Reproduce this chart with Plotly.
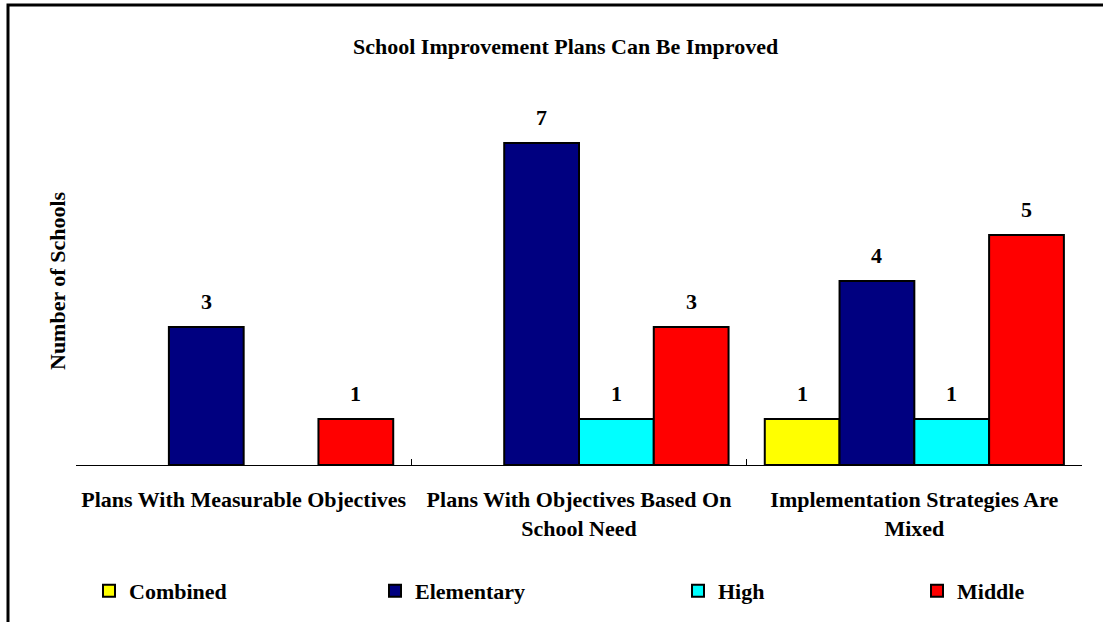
import plotly.graph_objects as go

# Categories and counts per school type
categories = [
    "Plans With Measurable Objectives",
    "Plans With Objectives Based On<br>School Need",
    "Implementation Strategies Are<br>Mixed",
]
series_names = ["Combined", "Elementary", "High", "Middle"]
combined = [None, None, 1]
elementary = [3, 7, 4]
high = [None, 1, 1]
middle = [1, 3, 5]
series_values = [combined, elementary, high, middle]
series_colors = ["#FFFF00", "#000080", "#00FFFF", "#FF0000"]

FONT = "Liberation Serif, Times New Roman, serif"

# plot-area geometry (pixels)
W, H = 1103, 622
L, R, T, B = 76, 21, 97, 157
PW, PH = W - L - R, H - T - B


def px_x(px):
    return (px - L) / PW


def px_y(py):
    return (H - B - py) / PH


legend_x_px = [89, 375, 678, 917]
BARGAP = 0.108

fig = go.Figure()
for i, (name, vals, col) in enumerate(zip(series_names, series_values, series_colors)):
    lname = "legend" if i == 0 else f"legend{i + 1}"
    fig.add_trace(go.Bar(
        x=categories, y=vals, name=f"<b>{name}</b>",
        marker=dict(color=col, line=dict(color="#000000", width=2)),
        legend=lname, hovertemplate=f"{name}: %{{y}}<extra></extra>",
    ))

# value labels above each bar
cat_w = PW / len(categories)
bar_w = cat_w * (1 - BARGAP) / len(series_names)
for i, vals in enumerate(series_values):
    offset = (i - (len(series_names) - 1) / 2) * bar_w
    for c, v in zip(categories, vals):
        if v is None:
            continue
        fig.add_annotation(
            x=c, y=v, xref="x", yref="y", text=f"<b>{v}</b>",
            showarrow=False, xshift=offset, yshift=26, yanchor="middle",
            font=dict(family=FONT, size=22, color="#000000"),
        )

fig.add_annotation(
    x=px_x(565), y=px_y(46), xref="paper", yref="paper",
    text="<b>School Improvement Plans Can Be Improved</b>",
    showarrow=False, xanchor="center", yanchor="middle",
    font=dict(family=FONT, size=22, color="#000000"),
)
fig.add_annotation(
    x=px_x(57), y=0.5, xref="paper", yref="paper",
    text="<b>Number of Schools</b>", textangle=-90,
    showarrow=False, xanchor="center", yanchor="middle",
    font=dict(family=FONT, size=22, color="#000000"),
)

# outer frame
fig.add_shape(
    type="rect", xref="paper", yref="paper",
    x0=px_x(8), y0=px_y(640), x1=px_x(1120), y1=px_y(5),
    line=dict(color="#000000", width=3), fillcolor="rgba(0,0,0,0)",
)

legend_common = dict(
    orientation="h", yanchor="middle", xanchor="left",
    y=px_y(591), font=dict(family=FONT, size=22, color="#000000"),
    bgcolor="rgba(0,0,0,0)", borderwidth=0,
)
legend_layout = {}
for i, lx in enumerate(legend_x_px):
    key = "legend" if i == 0 else f"legend{i + 1}"
    legend_layout[key] = dict(x=px_x(lx), **legend_common)

fig.update_layout(
    width=W, height=H,
    margin=dict(l=L, r=R, t=T, b=B, autoexpand=False),
    paper_bgcolor="#FFFFFF", plot_bgcolor="#FFFFFF",
    barmode="group", bargap=BARGAP, bargroupgap=0,
    showlegend=True,
    xaxis=dict(
        showline=True, linecolor="#000000", linewidth=1,
        ticks="inside", ticklen=6, tickcolor="#000000", tickwidth=1,
        tickson="boundaries", showgrid=False, zeroline=False,
        tickfont=dict(family=FONT, size=22, color="#000000"),
        tickprefix="<b>", ticksuffix="</b>",
        ticklabelstandoff=15,
    ),
    yaxis=dict(visible=False, range=[0, 8], showgrid=False, zeroline=False),
    **legend_layout,
)

fig.write_html("out.html")
